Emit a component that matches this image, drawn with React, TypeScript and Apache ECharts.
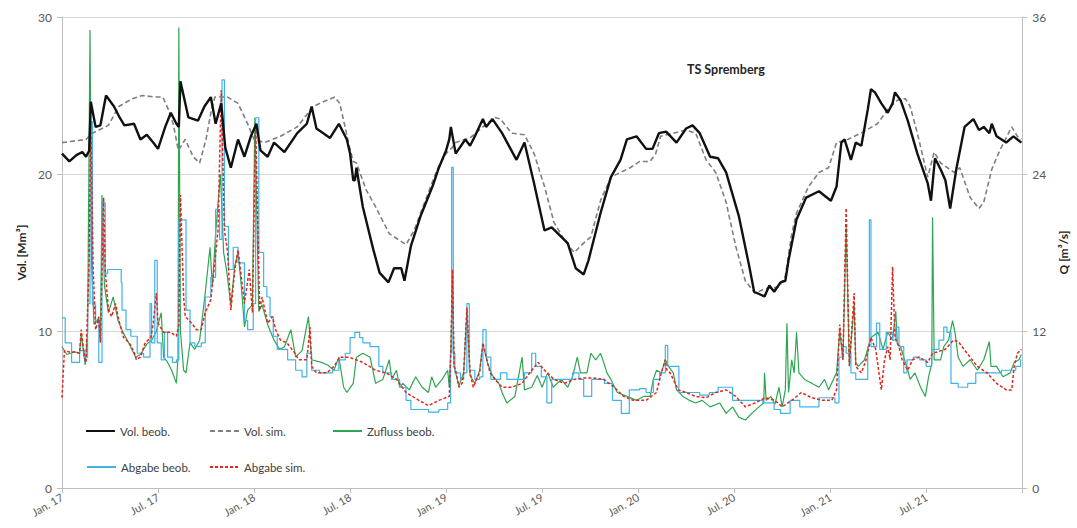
import React, { useEffect, useRef } from "react";
import * as echarts from "echarts";

// x values are months since Jan. 2017 (0 = Jan. 17, 60 = Jan. 22)
const tickLabels = ["Jan. 17", "Jul. 17", "Jan. 18", "Jul. 18", "Jan. 19", "Jul. 19", "Jan. 20", "Jul. 20", "Jan. 21", "Jul. 21", ""];

const seriesNames = ["Vol. beob.", "Vol. sim.", "Zufluss beob.", "Abgabe beob.", "Abgabe sim."];

// Vol. beob. [Mm³]
const volBeob: [number, number][] = [
  [0, 21.3], [0.46, 20.8], [0.9, 21.2], [1.27, 21.4], [1.5, 21.1], [1.7, 21.5], [1.8, 24.6], [2.1, 23.0], [2.4, 23.1], [2.75, 25.0],
  [3.25, 24.3], [3.6, 23.6], [3.9, 23.1], [4.5, 23.2], [4.9, 22.2], [5.3, 22.5], [5.7, 22.0], [6.0, 21.6], [6.45, 23.0], [6.8, 23.9],
  [7.15, 23.2], [7.3, 23.0], [7.4, 25.9], [7.9, 23.6], [8.5, 23.4], [8.9, 24.3], [9.3, 24.9], [9.6, 23.2], [9.95, 24.5], [10.2, 21.7],
  [10.55, 20.4], [11.0, 22.2], [11.4, 21.1], [11.8, 22.4], [12.15, 23.2], [12.4, 21.5], [12.85, 21.1], [13.25, 22.0], [13.9, 21.4],
  [14.7, 22.6], [15.3, 23.2], [15.6, 24.3], [15.9, 22.9], [16.75, 22.3], [17.3, 23.2], [17.8, 22.2], [18.0, 21.3], [18.2, 19.6],
  [18.3, 19.6], [18.4, 20.4], [18.8, 17.9], [19.45, 15.2], [19.85, 13.7], [20.4, 13.1], [20.75, 14.0], [21.2, 14.0], [21.4, 13.2],
  [21.8, 15.4], [22.4, 17.3], [23.15, 19.2], [23.55, 20.4], [24.0, 21.5], [24.2, 22.2], [24.3, 23.0], [24.6, 21.3], [25.2, 22.2],
  [25.5, 21.8], [25.8, 22.4], [26.3, 23.5], [26.5, 23.0], [26.9, 23.5], [27.5, 22.6], [28.4, 20.9], [28.9, 22.0], [29.5, 19.4],
  [30.15, 16.4], [30.6, 16.6], [31.2, 16.0], [31.6, 15.6], [32.1, 14.0], [32.6, 13.6], [32.9, 14.5], [33.65, 17.5], [34.3, 19.8],
  [34.9, 20.9], [35.3, 22.2], [35.9, 22.4], [36.5, 21.6], [36.9, 21.6], [37.3, 22.6], [37.75, 22.7], [38.4, 22.0], [39.0, 22.9],
  [39.4, 23.1], [39.85, 22.6], [40.5, 21.1], [41.0, 21.0], [41.5, 20.1], [42.3, 17.3], [42.95, 14.1], [43.25, 12.5], [43.9, 12.2],
  [44.2, 12.9], [44.5, 12.5], [44.9, 13.1], [45.2, 13.2], [45.4, 14.5], [45.9, 17.1], [46.5, 18.5], [47.3, 18.9], [48.05, 18.3],
  [48.4, 19.2], [48.7, 22.0], [48.9, 22.2], [49.3, 20.9], [49.6, 22.0], [49.95, 21.8], [50.35, 24.1], [50.55, 25.4], [50.8, 25.2],
  [51.2, 24.5], [51.6, 23.9], [51.9, 24.5], [52.05, 25.2], [52.4, 24.7], [52.85, 23.4], [53.45, 21.3], [54.1, 19.4], [54.3, 18.3],
  [54.55, 21.0], [54.9, 20.3], [55.2, 19.6], [55.5, 17.8], [55.9, 20.4], [56.4, 23.0], [56.95, 23.5], [57.3, 22.8], [57.6, 23.0],
  [57.95, 22.6], [58.1, 23.2], [58.4, 22.4], [59.0, 22.0], [59.45, 22.4], [59.95, 22.0],
];

// Vol. sim. [Mm³]
const volSim: [number, number][] = [
  [0, 22.0], [1.5, 22.2], [1.9, 22.6], [2.9, 23.1], [3.55, 24.3], [4.4, 24.8], [5.0, 25.0], [5.85, 24.9], [6.3, 24.9], [6.65, 24.1],
  [6.95, 23.2], [7.27, 21.5], [7.7, 22.2], [8.2, 21.1], [8.6, 20.7], [9.0, 22.2], [9.3, 23.9], [9.55, 24.9], [10.35, 24.9], [11.0, 24.5],
  [11.6, 23.2], [12.0, 22.2], [12.65, 22.0], [13.65, 22.4], [14.7, 23.0], [15.7, 24.3], [16.55, 24.7], [17.05, 24.9], [17.35, 24.5],
  [17.6, 23.4], [17.97, 21.7], [18.2, 20.8], [18.4, 20.7], [19.0, 19.0], [19.6, 17.9], [20.45, 16.2], [21.5, 15.5], [22.0, 16.4],
  [22.7, 18.3], [23.45, 20.3], [24.0, 21.3], [24.4, 21.7], [24.6, 22.0], [25.5, 22.3], [26.3, 23.0], [27.05, 23.6], [27.4, 23.5],
  [28.1, 22.6], [28.9, 22.5], [29.5, 21.3], [30.15, 19.2], [30.75, 16.9], [31.4, 15.8], [32.0, 15.0], [32.6, 15.6], [33.05, 16.0],
  [33.65, 18.3], [34.3, 19.8], [34.9, 20.1], [35.5, 20.4], [36.1, 20.8], [36.75, 20.8], [37.1, 21.3], [37.4, 22.4], [38.2, 22.6],
  [39.0, 22.8], [39.6, 22.6], [40.25, 20.9], [40.85, 20.1], [41.5, 18.2], [42.1, 15.4], [42.7, 13.2], [43.3, 12.4], [43.95, 12.7],
  [44.8, 12.8], [45.2, 13.5], [45.6, 16.2], [45.9, 17.5], [46.65, 19.2], [47.3, 20.1], [47.9, 20.4], [48.4, 22.0], [49.1, 22.2],
  [50.1, 22.7], [50.95, 23.2], [51.6, 24.1], [52.2, 24.7], [52.7, 24.8], [53.0, 24.3], [53.45, 22.6], [54.1, 19.8], [54.5, 21.4],
  [54.9, 20.7], [55.75, 20.1], [56.1, 20.4], [56.75, 18.5], [57.3, 17.8], [57.6, 18.2], [58.1, 20.3], [58.6, 21.5], [59.35, 23.0],
  [59.7, 22.4], [59.95, 22.2],
];

// Zufluss beob. [m³/s]
const zuflussBeob: [number, number][] = [
  [0, 10.8], [0.3, 10.2], [0.8, 10.4], [1.1, 10.3], [1.2, 11.8], [1.45, 9.4], [1.6, 12.0], [1.75, 35.0], [1.85, 17.0], [2.0, 12.5],
  [2.3, 13.0], [2.4, 11.2], [2.5, 22.4], [2.65, 15.5], [2.9, 13.4], [3.2, 14.6], [3.5, 12.8], [3.85, 11.8], [4.2, 11.0], [4.6, 10.0],
  [4.9, 10.2], [5.3, 11.0], [5.6, 11.3], [5.9, 12.0], [6.2, 13.4], [6.35, 10.0], [6.6, 9.6], [6.85, 9.0], [7.15, 8.0], [7.25, 10.0],
  [7.3, 35.2], [7.4, 12.0], [7.6, 9.0], [7.75, 8.8], [8.0, 11.1], [8.3, 10.6], [8.6, 11.3], [8.95, 14.9], [9.25, 18.4], [9.4, 15.4],
  [9.6, 19.5], [9.9, 24.0], [10.1, 18.0], [10.3, 16.5], [10.55, 14.0], [10.8, 17.0], [11.0, 18.0], [11.2, 15.5], [11.4, 12.3],
  [11.6, 13.6], [11.9, 14.0], [12.05, 28.3], [12.3, 13.5], [12.5, 14.0], [12.85, 12.5], [13.25, 11.3], [13.6, 10.6], [13.9, 10.8],
  [14.3, 12.1], [14.6, 10.0], [15.0, 10.5], [15.4, 13.1], [15.6, 9.8], [16.2, 9.6], [16.6, 9.4], [17.0, 9.0], [17.3, 10.0], [17.6, 7.7],
  [17.8, 7.3], [18.2, 8.0], [18.4, 10.0], [18.8, 10.3], [19.25, 10.0], [19.6, 8.0], [20.05, 8.3], [20.45, 9.8], [20.6, 8.3], [20.9, 9.0],
  [21.1, 7.7], [21.3, 8.0], [21.7, 7.5], [22.1, 8.5], [22.5, 7.7], [22.9, 7.3], [23.1, 8.5], [23.35, 7.7], [23.75, 8.3], [24.1, 9.0],
  [24.2, 7.7], [24.3, 10.6], [24.4, 16.0], [24.5, 9.3], [24.8, 7.8], [25.1, 8.8], [25.3, 13.5], [25.5, 8.6], [25.8, 8.0], [26.1, 9.0],
  [26.3, 11.0], [26.6, 9.5], [26.9, 8.6], [27.3, 8.0], [27.5, 7.3], [27.8, 6.5], [28.3, 7.0], [28.75, 10.0], [28.9, 7.5], [29.35, 7.7],
  [29.7, 8.6], [30.0, 7.7], [30.35, 8.8], [30.7, 7.7], [31.2, 8.3], [31.6, 7.7], [31.9, 8.5], [32.2, 10.0], [32.4, 8.8], [32.8, 8.8],
  [33.05, 10.3], [33.35, 9.8], [33.65, 10.3], [33.85, 9.6], [34.05, 8.8], [34.3, 8.3], [34.7, 7.3], [35.3, 7.0], [35.9, 6.7],
  [36.35, 7.0], [36.75, 7.0], [36.95, 8.3], [37.15, 9.0], [37.45, 8.8], [37.7, 9.8], [37.9, 9.3], [38.2, 8.8], [38.4, 7.5], [38.8, 7.0],
  [39.2, 6.7], [39.6, 6.5], [40.0, 6.7], [40.5, 6.2], [41.1, 6.5], [41.5, 5.7], [41.9, 6.2], [42.3, 5.4], [42.7, 5.2], [43.1, 5.7],
  [43.55, 6.2], [43.85, 6.5], [43.9, 8.8], [44.0, 6.7], [44.3, 7.0], [44.55, 6.4], [44.8, 7.7], [45.0, 6.2], [45.2, 7.5], [45.3, 12.6],
  [45.4, 7.3], [45.6, 9.8], [45.75, 8.8], [45.9, 11.9], [46.05, 8.8], [46.4, 8.3], [46.85, 8.0], [47.3, 7.7], [47.65, 8.3], [47.9, 7.5],
  [48.2, 8.3], [48.4, 8.8], [48.6, 12.0], [48.8, 9.8], [49.0, 20.0], [49.2, 9.5], [49.5, 14.0], [49.6, 9.6], [49.75, 9.3], [50.15, 9.8],
  [50.55, 11.5], [51.0, 11.9], [51.3, 10.6], [51.6, 11.9], [51.9, 11.3], [52.1, 13.5], [52.2, 11.0], [52.4, 10.8], [52.85, 9.0],
  [53.0, 8.3], [53.3, 8.8], [53.65, 7.7], [53.95, 7.0], [54.15, 8.5], [54.35, 9.5], [54.4, 20.7], [54.5, 9.8], [54.9, 9.8], [55.1, 10.8],
  [55.4, 11.3], [55.65, 12.8], [55.8, 11.9], [56.0, 10.0], [56.3, 9.3], [56.75, 9.8], [57.2, 9.0], [57.6, 9.8], [57.95, 11.2],
  [58.05, 9.3], [58.4, 9.3], [58.8, 8.5], [59.25, 8.8], [59.5, 9.6], [59.8, 9.8], [59.95, 10.2],
];

// Abgabe beob. [m³/s]
const abgabeBeob: [number, number][] = [
  [0, 13.0], [0.2, 11.1], [0.6, 9.6], [1.1, 10.5], [1.4, 10.0], [1.6, 14.1], [1.75, 28.0], [1.9, 14.0], [2.1, 12.8], [2.3, 9.6],
  [2.5, 21.8], [2.7, 16.4], [2.85, 16.7], [3.7, 15.7], [3.75, 13.6], [4.0, 12.1], [4.3, 11.6], [4.7, 10.3], [5.1, 10.0], [5.5, 14.1],
  [5.6, 11.1], [5.8, 17.4], [5.95, 11.1], [6.2, 9.8], [6.4, 11.9], [6.6, 10.0], [6.9, 9.6], [7.15, 9.8], [7.3, 20.5], [7.75, 13.6],
  [8.0, 11.1], [8.3, 10.8], [8.7, 11.1], [8.95, 14.6], [9.3, 16.1], [9.6, 21.3], [9.85, 19.0], [10.0, 31.2], [10.15, 20.0], [10.4, 16.7],
  [10.7, 18.4], [11.0, 17.2], [11.4, 12.8], [11.6, 12.1], [11.95, 14.1], [12.1, 28.3], [12.3, 18.0], [12.6, 15.4], [12.8, 14.6],
  [13.0, 13.1], [13.2, 11.6], [13.45, 10.6], [14.1, 9.8], [14.6, 9.0], [15.0, 8.5], [15.3, 10.3], [15.6, 9.0], [16.1, 8.8], [16.9, 9.0],
  [17.3, 9.8], [17.7, 10.3], [18.0, 11.5], [18.3, 11.9], [18.6, 11.5], [18.8, 11.1], [19.25, 10.8], [19.8, 9.3], [20.05, 8.8],
  [20.6, 8.3], [21.1, 7.7], [21.5, 6.7], [21.8, 6.0], [22.9, 5.8], [23.55, 6.0], [24.1, 6.5], [24.28, 10.3], [24.35, 24.5], [24.45, 10.3],
  [24.55, 8.8], [24.9, 8.3], [25.1, 8.8], [25.3, 14.1], [25.45, 9.0], [25.8, 8.3], [26.1, 8.5], [26.3, 12.1], [26.5, 10.0], [26.8, 8.3],
  [27.4, 8.8], [27.8, 8.3], [28.9, 8.8], [29.35, 10.3], [29.6, 9.3], [29.95, 8.5], [30.3, 6.5], [30.6, 8.3], [31.9, 8.8], [32.3, 8.3],
  [32.6, 7.0], [33.1, 8.3], [33.9, 8.0], [34.4, 6.7], [34.95, 5.7], [35.45, 7.5], [36.1, 7.6], [36.5, 7.3], [36.95, 8.3], [37.35, 8.8],
  [37.7, 10.9], [37.85, 9.3], [38.55, 7.3], [39.85, 7.1], [40.45, 7.3], [41.0, 7.7], [41.9, 6.7], [43.8, 6.5], [44.5, 6.0], [44.9, 5.7],
  [45.5, 6.7], [46.1, 6.2], [47.3, 6.9], [48.3, 6.5], [48.55, 10.0], [48.8, 10.8], [49.0, 10.3], [49.3, 8.8], [49.6, 8.3], [50.35, 10.8],
  [50.45, 20.5], [50.55, 10.8], [50.9, 12.6], [51.1, 10.6], [51.5, 11.9], [51.9, 11.3], [52.1, 12.3], [52.3, 10.8], [52.6, 8.8],
  [52.8, 9.8], [53.2, 10.0], [53.6, 9.8], [54.0, 9.3], [54.35, 10.6], [54.8, 11.3], [55.1, 12.3], [55.3, 11.9], [55.55, 8.0], [56.0, 7.7],
  [56.6, 8.0], [57.1, 8.8], [58.7, 9.0], [59.6, 9.3], [59.9, 9.8], [59.95, 9.8],
];

// Abgabe sim. [m³/s]
const abgabeSim: [number, number][] = [
  [0, 6.9], [0.15, 10.5], [0.45, 10.4], [0.8, 10.4], [1.1, 10.3], [1.2, 12.1], [1.4, 10.0], [1.5, 9.6], [1.7, 17.7], [1.8, 28.0],
  [1.95, 16.7], [2.1, 12.1], [2.3, 13.1], [2.4, 11.1], [2.6, 22.2], [2.7, 16.7], [2.9, 13.6], [3.1, 13.1], [3.35, 14.1], [3.55, 12.8],
  [3.85, 11.5], [4.2, 11.1], [4.5, 10.4], [4.65, 9.8], [4.9, 10.0], [5.2, 11.1], [5.55, 11.5], [5.7, 12.6], [5.9, 14.9], [6.0, 12.6],
  [6.35, 11.9], [6.8, 11.9], [7.15, 11.6], [7.3, 12.5], [7.4, 22.4], [7.6, 14.6], [7.7, 13.1], [8.1, 12.6], [8.4, 12.1], [8.7, 12.1],
  [8.95, 13.4], [9.3, 14.4], [9.5, 16.7], [9.75, 19.7], [9.95, 30.4], [10.15, 19.7], [10.35, 18.0], [10.55, 13.6], [10.8, 16.7],
  [11.0, 18.2], [11.15, 16.7], [11.4, 14.1], [11.7, 16.7], [11.9, 13.4], [12.1, 27.8], [12.35, 13.6], [12.5, 14.6], [12.85, 12.6],
  [13.15, 13.1], [13.35, 12.1], [13.65, 11.3], [14.05, 11.1], [14.5, 10.4], [14.8, 9.8], [15.3, 9.8], [15.5, 12.3], [15.6, 9.3],
  [15.9, 8.8], [16.55, 8.8], [17.0, 9.3], [17.35, 10.0], [17.95, 10.0], [18.8, 9.6], [19.6, 9.0], [20.25, 8.8], [20.9, 8.3], [21.5, 7.3],
  [22.3, 6.7], [22.9, 6.3], [23.55, 6.7], [24.2, 7.0], [24.3, 10.6], [24.4, 16.7], [24.5, 9.3], [24.6, 9.0], [24.8, 7.7], [25.0, 8.0],
  [25.1, 8.8], [25.3, 13.8], [25.5, 8.8], [25.7, 7.7], [25.9, 8.3], [26.1, 8.8], [26.3, 11.1], [26.55, 9.8], [26.75, 8.8], [27.05, 8.3],
  [27.5, 7.7], [28.1, 7.7], [28.75, 8.0], [29.35, 9.0], [29.75, 9.6], [30.15, 9.0], [30.75, 8.3], [31.4, 8.0], [32.0, 8.3], [32.6, 8.4],
  [33.25, 8.4], [33.85, 8.3], [34.5, 7.7], [35.1, 7.0], [35.7, 6.7], [36.5, 6.7], [37.15, 7.3], [37.45, 8.8], [37.7, 9.8], [37.8, 9.0],
  [38.0, 8.8], [38.2, 8.3], [38.5, 7.5], [39.0, 7.3], [39.6, 7.0], [40.25, 6.9], [40.85, 7.3], [41.5, 7.5], [42.1, 7.0], [42.7, 6.2],
  [43.3, 6.5], [43.95, 6.9], [44.55, 6.7], [45.0, 6.2], [45.6, 6.7], [46.2, 7.3], [46.85, 6.9], [47.5, 6.7], [48.1, 6.7], [48.4, 7.5],
  [48.6, 12.5], [48.8, 9.8], [49.0, 21.4], [49.2, 9.3], [49.5, 14.9], [49.6, 9.3], [49.95, 8.8], [50.25, 9.8], [50.55, 11.5],
  [50.85, 10.6], [51.05, 8.8], [51.2, 7.5], [51.4, 9.8], [51.6, 10.8], [51.75, 9.8], [51.9, 16.9], [52.05, 11.5], [52.3, 10.8],
  [52.5, 9.8], [52.85, 9.0], [53.15, 9.8], [53.55, 10.0], [54.1, 9.6], [54.4, 10.3], [54.7, 10.4], [55.2, 10.6], [55.7, 11.3],
  [56.0, 11.2], [56.55, 10.3], [57.2, 9.3], [57.8, 8.8], [58.4, 8.0], [59.0, 7.5], [59.35, 7.5], [59.5, 9.3], [59.7, 10.3], [59.95, 10.6],
];

const FONT = "Lato, 'Liberation Sans', sans-serif";
const AXIS_GRAY = "#bfbfbf";
const LABEL_GRAY = "#595959";

export default function App() {
  const ref = useRef<HTMLDivElement>(null);

  useEffect(() => {
    if (!ref.current) return;
    const chart = echarts.init(ref.current, undefined, { renderer: "svg" });

    const legendBase = {
      padding: 0,
      itemWidth: 29,
      itemHeight: 12,
      itemGap: 0,
      itemStyle: { opacity: 0, color: "rgba(0,0,0,0)", borderWidth: 0 },
      textStyle: { fontFamily: FONT, fontSize: 11.5, color: "#404040" },
    };

    const option = {
      animation: false,
      backgroundColor: "#ffffff",
      textStyle: { fontFamily: FONT },
      title: {
        text: "TS Spremberg",
        left: 687,
        top: 63,
        padding: 0,
        textStyle: { fontFamily: FONT, fontSize: 12.5, fontWeight: "bold", color: "#262626" },
      },
      legend: [
        { ...legendBase, data: [seriesNames[0]], left: 85, top: 425 },
        { ...legendBase, data: [seriesNames[1]], left: 209, top: 425 },
        { ...legendBase, data: [seriesNames[2]], left: 332, top: 425 },
        { ...legendBase, data: [seriesNames[3]], left: 86, top: 461 },
        { ...legendBase, data: [seriesNames[4]], left: 209, top: 461 },
      ],
      grid: { left: 62, right: 45, top: 17, bottom: 40, containLabel: false },
      xAxis: {
        type: "value",
        min: 0,
        max: 60,
        interval: 6,
        axisLine: { show: true, lineStyle: { color: AXIS_GRAY, width: 1 } },
        axisTick: { show: true, length: 5, lineStyle: { color: AXIS_GRAY } },
        splitLine: { show: false },
        axisLabel: {
          rotate: 30,
          margin: 8,
          color: LABEL_GRAY,
          fontFamily: FONT,
          fontSize: 11,
          formatter: (v: number) => tickLabels[Math.round(v / 6)] ?? "",
        },
      },
      yAxis: [
        {
          type: "value",
          min: 0,
          max: 30,
          interval: 10,
          position: "left",
          name: "Vol. [Mm³]",
          nameLocation: "middle",
          nameGap: 33,
          nameRotate: 90,
          nameTextStyle: { fontFamily: FONT, fontSize: 12, fontWeight: "bold", color: "#262626" },
          axisLine: { show: true, lineStyle: { color: AXIS_GRAY } },
          axisTick: { show: true, length: 5, lineStyle: { color: AXIS_GRAY } },
          splitLine: { show: true, lineStyle: { color: "#d9d9d9", width: 1 } },
          axisLabel: { margin: 10, color: LABEL_GRAY, fontFamily: FONT, fontSize: 12 },
        },
        {
          type: "value",
          min: 0,
          max: 36,
          interval: 12,
          position: "right",
          name: "Q [m³/s]",
          nameLocation: "middle",
          nameGap: 34,
          nameRotate: 90,
          nameTextStyle: { fontFamily: FONT, fontSize: 12, fontWeight: "bold", color: "#262626" },
          axisLine: { show: true, lineStyle: { color: AXIS_GRAY } },
          axisTick: { show: true, length: 5, lineStyle: { color: AXIS_GRAY } },
          splitLine: { show: false },
          axisLabel: { margin: 10, color: LABEL_GRAY, fontFamily: FONT, fontSize: 12 },
        },
      ],
      series: [
        {
          name: seriesNames[2],
          type: "line",
          yAxisIndex: 1,
          data: zuflussBeob,
          symbol: "none",
          color: "#2fa552",
          lineStyle: { color: "#2fa552", width: 1.2 },
          z: 2,
        },
        {
          name: seriesNames[3],
          type: "line",
          yAxisIndex: 1,
          data: abgabeBeob,
          step: "end",
          symbol: "none",
          color: "#3db3e6",
          lineStyle: { color: "#3db3e6", width: 1.2 },
          z: 3,
        },
        {
          name: seriesNames[4],
          type: "line",
          yAxisIndex: 1,
          data: abgabeSim,
          symbol: "none",
          color: "#e3261c",
          lineStyle: { color: "#e3261c", width: 1.5, type: [3, 2] },
          z: 4,
        },
        {
          name: seriesNames[1],
          type: "line",
          yAxisIndex: 0,
          data: volSim,
          symbol: "none",
          color: "#7f7f7f",
          lineStyle: { color: "#7f7f7f", width: 1.6, type: [5, 3] },
          z: 5,
        },
        {
          name: seriesNames[0],
          type: "line",
          yAxisIndex: 0,
          data: volBeob,
          symbol: "none",
          color: "#111111",
          lineStyle: { color: "#111111", width: 2.4 },
          z: 6,
        },
      ],
    };

    chart.setOption(option as any);
    return () => chart.dispose();
  }, []);

  return (
    <div
      ref={ref}
      style={{ position: "absolute", left: 0, top: 0, width: 1077, height: 528, background: "#fff" }}
    />
  );
}
